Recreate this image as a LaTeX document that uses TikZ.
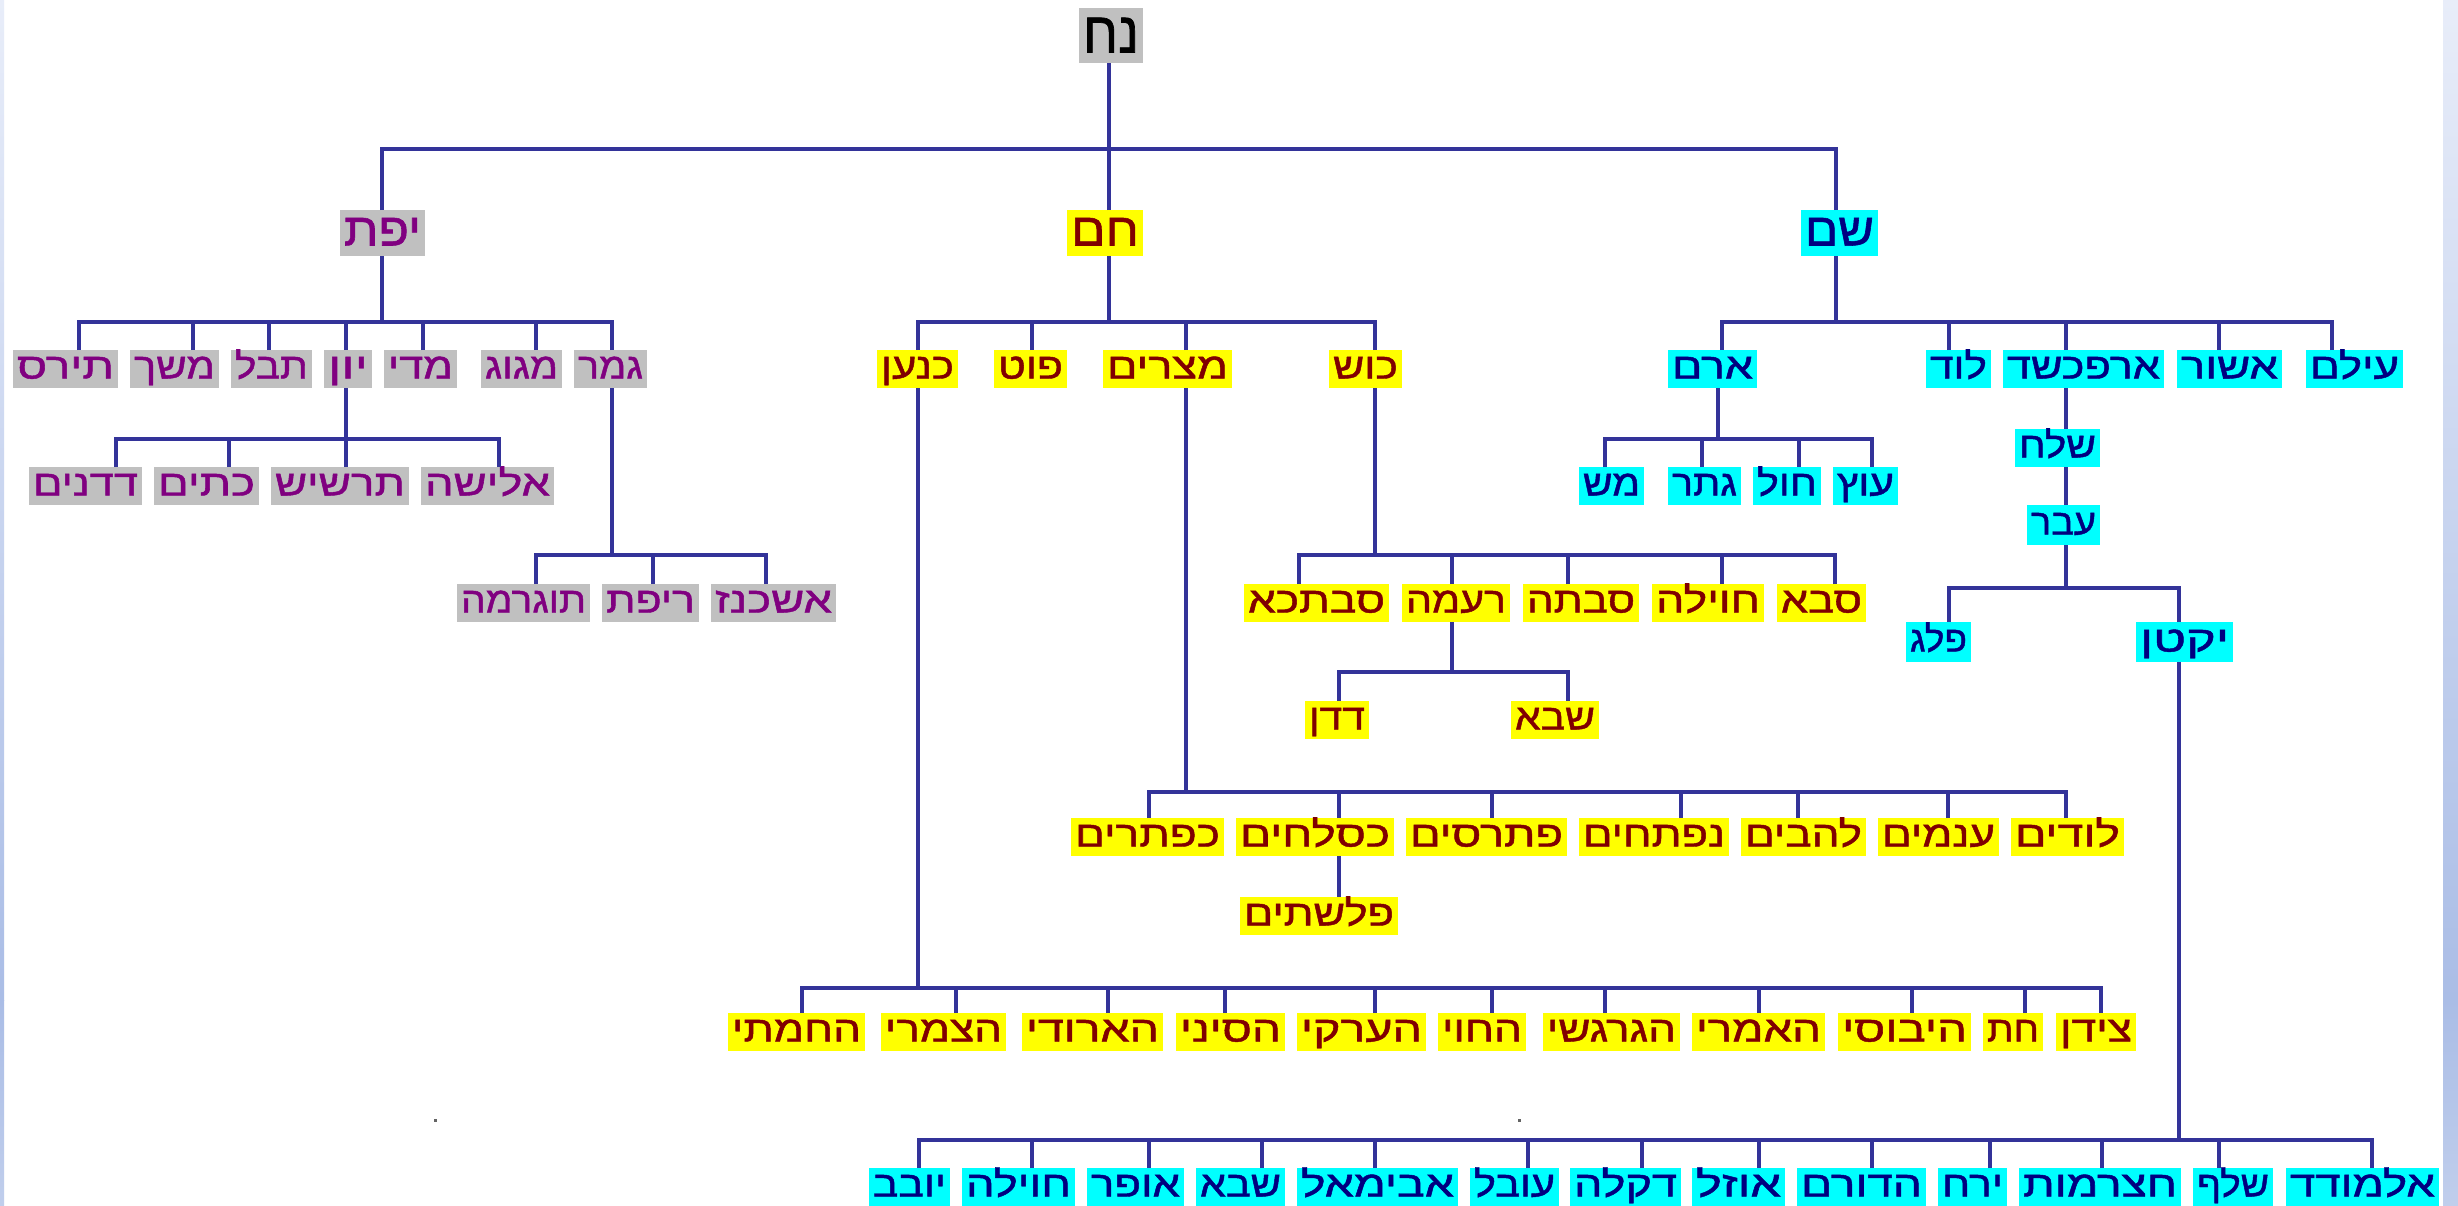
\documentclass[tikz,border=0pt]{standalone}
\usepackage{fontspec}
\usepackage{graphicx}
\newfontfamily\hebfont[Script=Hebrew,FakeBold=1.2]{Liberation Sans}
\TeXXeTstate=1
\definecolor{lnc}{RGB}{51,51,153}
\definecolor{gfill}{RGB}{192,192,192}
\definecolor{gtext}{RGB}{128,0,128}
\definecolor{yfill}{RGB}{255,255,0}
\definecolor{ytext}{RGB}{128,0,0}
\definecolor{cfill}{RGB}{0,255,255}
\definecolor{ctext}{RGB}{0,0,128}
\definecolor{stripA}{RGB}{232,237,249}
\definecolor{stripB}{RGB}{170,189,230}
\definecolor{stripC}{RGB}{192,206,236}
\definecolor{dotc}{RGB}{100,100,100}
\tikzset{
  ln/.style={draw=lnc, line width=1.8pt},
  bxbase/.style={inner sep=0pt, outer sep=0pt, anchor=center},
  gbox/.style={bxbase, fill=gfill, text=gtext},
  ybox/.style={bxbase, fill=yfill, text=ytext},
  cbox/.style={bxbase, fill=cfill, text=ctext},
  nbox/.style={bxbase, fill=gfill, text=black},
  kid/.style={font=\fontsize{18}{18}\selectfont, text height=12.5pt, text depth=3pt},
  big/.style={font=\fontsize{23}{23}\selectfont, text height=15.5pt, text depth=3pt},
  noahst/.style={font=\fontsize{29}{29}\selectfont, text height=20.5pt, text depth=3.5pt},
}
% name, x1, y1, x2, y2, style, text
\newcommand\mkbox[7]{%
  \pgfmathsetlengthmacro\bxw{(#4-#2)*0.5pt}%
  \pgfmathsetlengthmacro\bxh{(#5-#3)*0.5pt}%
  \pgfmathsetlengthmacro\bxt{(#4-#2-8)*0.5pt}%
  \node[#6, minimum width=\bxw, minimum height=\bxh] (#1) at ({(#2+#4)/2},{(#3+#5)/2})
    {\resizebox{\bxt}{\height}{\hebfont\beginR #7\endR}};%
}
\newcommand\kid[3]{\draw[ln] (#1.north -| #2,0) |- (#3);}
\newcommand\dropdown[2]{\draw[ln] (#1.south -| #2) -- (#2);}
\begin{document}
\begin{tikzpicture}[x=0.5pt,y=-0.5pt]
\useasboundingbox (0,0) rectangle (2458,1205);
\fill[white] (0,0) rectangle (2458,1205);
% side strips
\shade[top color=stripA, bottom color=stripB] (0,0) rectangle (4,1000);
\shade[top color=stripB, bottom color=stripC] (0,1000) rectangle (4,1205);
\shade[top color=stripA, bottom color=stripB] (2443,0) rectangle (2458,1000);
\shade[top color=stripB, bottom color=stripC] (2443,1000) rectangle (2458,1205);
% stray dots
\fill[dotc] (434,1119) rectangle (437,1122);
\fill[dotc] (1518,1119) rectangle (1521,1122);

% ---------- boxes ----------
\mkbox{noah}{1079}{8}{1143}{63}{nbox,noahst}{נח}
\mkbox{japheth}{340}{210}{425}{256}{gbox,big}{יפת}
\mkbox{ham}{1067}{210}{1143}{256}{ybox,big}{חם}
\mkbox{shem}{1801}{210}{1878}{256}{cbox,big}{שם}

% Japheth's sons
\mkbox{tiras}{13}{350}{118}{388}{gbox,kid}{תירס}
\mkbox{meshech}{130}{350}{219}{388}{gbox,kid}{משך}
\mkbox{tuval}{231}{350}{312}{388}{gbox,kid}{תבל}
\mkbox{yavan}{324}{350}{372}{388}{gbox,kid}{יון}
\mkbox{madai}{384}{350}{457}{388}{gbox,kid}{מדי}
\mkbox{magog}{481}{350}{562}{388}{gbox,kid}{מגוג}
\mkbox{gomer}{574}{350}{647}{388}{gbox,kid}{גמר}
% Yavan's sons
\mkbox{dodanim}{29}{467}{142}{505}{gbox,kid}{דדנים}
\mkbox{kittim}{154}{467}{259}{505}{gbox,kid}{כתים}
\mkbox{tarshish}{271}{467}{409}{505}{gbox,kid}{תרשיש}
\mkbox{elisha}{421}{467}{554}{505}{gbox,kid}{אלישה}
% Gomer's sons
\mkbox{togarma}{457}{584}{590}{622}{gbox,kid}{תוגרמה}
\mkbox{rifat}{602}{584}{699}{622}{gbox,kid}{ריפת}
\mkbox{ashkenaz}{711}{584}{836}{622}{gbox,kid}{אשכנז}

% Ham's sons
\mkbox{canaan}{877}{350}{958}{388}{ybox,kid}{כנען}
\mkbox{put}{994}{350}{1067}{388}{ybox,kid}{פוט}
\mkbox{mizraim}{1103}{350}{1232}{388}{ybox,kid}{מצרים}
\mkbox{cush}{1329}{350}{1402}{388}{ybox,kid}{כוש}
% Cush's sons
\mkbox{savtecha}{1244}{584}{1389}{622}{ybox,kid}{סבתכא}
\mkbox{raama}{1402}{584}{1510}{622}{ybox,kid}{רעמה}
\mkbox{savta}{1523}{584}{1639}{622}{ybox,kid}{סבתה}
\mkbox{havila}{1652}{584}{1764}{622}{ybox,kid}{חוילה}
\mkbox{seba}{1777}{584}{1866}{622}{ybox,kid}{סבא}
% Raama's sons
\mkbox{dedan}{1305}{701}{1369}{739}{ybox,kid}{דדן}
\mkbox{sheba}{1511}{701}{1599}{739}{ybox,kid}{שבא}
% Mizraim's sons
\mkbox{kaftorim}{1071}{818}{1224}{856}{ybox,kid}{כפתרים}
\mkbox{kasluhim}{1236}{818}{1394}{856}{ybox,kid}{כסלחים}
\mkbox{patrusim}{1406}{818}{1567}{856}{ybox,kid}{פתרסים}
\mkbox{naftuhim}{1579}{818}{1729}{856}{ybox,kid}{נפתחים}
\mkbox{lehavim}{1741}{818}{1866}{856}{ybox,kid}{להבים}
\mkbox{anamim}{1878}{818}{1999}{856}{ybox,kid}{ענמים}
\mkbox{ludim}{2011}{818}{2124}{856}{ybox,kid}{לודים}
\mkbox{plishtim}{1240}{897}{1398}{935}{ybox,kid}{פלשתים}
% Canaan's sons
\mkbox{hamati}{728}{1013}{865}{1051}{ybox,kid}{החמתי}
\mkbox{tsemari}{881}{1013}{1006}{1051}{ybox,kid}{הצמרי}
\mkbox{arvadi}{1022}{1013}{1163}{1051}{ybox,kid}{הארודי}
\mkbox{sini}{1176}{1013}{1285}{1051}{ybox,kid}{הסיני}
\mkbox{arki}{1297}{1013}{1426}{1051}{ybox,kid}{הערקי}
\mkbox{hivi}{1438}{1013}{1526}{1051}{ybox,kid}{החוי}
\mkbox{girgashi}{1543}{1013}{1680}{1051}{ybox,kid}{הגרגשי}
\mkbox{emori}{1692}{1013}{1825}{1051}{ybox,kid}{האמרי}
\mkbox{yevusi}{1838}{1013}{1971}{1051}{ybox,kid}{היבוסי}
\mkbox{het}{1983}{1013}{2043}{1051}{ybox,kid}{חת}
\mkbox{tsidon}{2056}{1013}{2136}{1051}{ybox,kid}{צידן}

% Shem's sons
\mkbox{aram}{1668}{350}{1757}{388}{cbox,kid}{ארם}
\mkbox{lud}{1926}{350}{1991}{388}{cbox,kid}{לוד}
\mkbox{arpachshad}{2003}{350}{2164}{388}{cbox,kid}{ארפכשד}
\mkbox{ashur}{2177}{350}{2282}{388}{cbox,kid}{אשור}
\mkbox{elam}{2306}{350}{2403}{388}{cbox,kid}{עילם}
% Aram's sons
\mkbox{mash}{1579}{467}{1644}{505}{cbox,kid}{מש}
\mkbox{geter}{1668}{467}{1741}{505}{cbox,kid}{גתר}
\mkbox{hul}{1753}{467}{1821}{505}{cbox,kid}{חול}
\mkbox{uts}{1833}{467}{1898}{505}{cbox,kid}{עוץ}
% line of Arpachshad
\mkbox{shelah}{2015}{429}{2100}{467}{cbox,kid}{שלח}
\mkbox{ever}{2027}{505}{2100}{545}{cbox,kid}{עבר}
\mkbox{peleg}{1906}{622}{1971}{662}{cbox,kid}{פלג}
\mkbox{yoktan}{2136}{622}{2233}{662}{cbox,kid}{יקטן}
% Yoktan's sons
\mkbox{yovav}{869}{1168}{950}{1206}{cbox,kid}{יובב}
\mkbox{havila2}{962}{1168}{1075}{1206}{cbox,kid}{חוילה}
\mkbox{ofir}{1087}{1168}{1184}{1206}{cbox,kid}{אופר}
\mkbox{sheba2}{1196}{1168}{1285}{1206}{cbox,kid}{שבא}
\mkbox{avimael}{1297}{1168}{1458}{1206}{cbox,kid}{אבימאל}
\mkbox{oval}{1470}{1168}{1559}{1206}{cbox,kid}{עובל}
\mkbox{dikla}{1570}{1168}{1681}{1206}{cbox,kid}{דקלה}
\mkbox{uzal}{1692}{1168}{1785}{1206}{cbox,kid}{אוזל}
\mkbox{hadoram}{1797}{1168}{1926}{1206}{cbox,kid}{הדורם}
\mkbox{yerah}{1938}{1168}{2007}{1206}{cbox,kid}{ירח}
\mkbox{hatsarmavet}{2019}{1168}{2181}{1206}{cbox,kid}{חצרמות}
\mkbox{shelef}{2193}{1168}{2273}{1206}{cbox,kid}{שלף}
\mkbox{almodad}{2286}{1168}{2439}{1206}{cbox,kid}{אלמודד}

% ---------- connectors ----------
\coordinate (nb) at (1109,149);
\dropdown{noah}{nb}
\kid{japheth}{382}{nb}
\kid{ham}{1109}{nb}
\kid{shem}{1836}{nb}

\coordinate (jb) at (382,322);
\dropdown{japheth}{jb}
\kid{tiras}{79}{jb}
\kid{meshech}{193}{jb}
\kid{tuval}{269}{jb}
\kid{yavan}{346}{jb}
\kid{madai}{423}{jb}
\kid{magog}{536}{jb}
\kid{gomer}{612}{jb}

\coordinate (yb) at (346,439);
\dropdown{yavan}{yb}
\kid{dodanim}{116}{yb}
\kid{kittim}{229}{yb}
\kid{tarshish}{346}{yb}
\kid{elisha}{499}{yb}

\coordinate (gb) at (612,555);
\dropdown{gomer}{gb}
\kid{togarma}{536}{gb}
\kid{rifat}{653}{gb}
\kid{ashkenaz}{766}{gb}

\coordinate (hb) at (1109,322);
\dropdown{ham}{hb}
\kid{canaan}{918}{hb}
\kid{put}{1032}{hb}
\kid{mizraim}{1186}{hb}
\kid{cush}{1375}{hb}

\coordinate (cb) at (1375,555);
\dropdown{cush}{cb}
\kid{savtecha}{1299}{cb}
\kid{raama}{1452}{cb}
\kid{savta}{1568}{cb}
\kid{havila}{1722}{cb}
\kid{seba}{1835}{cb}

\coordinate (rb) at (1452,672);
\dropdown{raama}{rb}
\kid{dedan}{1339}{rb}
\kid{sheba}{1568}{rb}

\coordinate (mb) at (1186,792);
\dropdown{mizraim}{mb}
\kid{kaftorim}{1149}{mb}
\kid{kasluhim}{1339}{mb}
\kid{patrusim}{1492}{mb}
\kid{naftuhim}{1681}{mb}
\kid{lehavim}{1798}{mb}
\kid{anamim}{1948}{mb}
\kid{ludim}{2066}{mb}
\draw[ln] (kasluhim.south -| 1339,0) -- (plishtim.north -| 1339,0);

\coordinate (kb) at (918,988);
\dropdown{canaan}{kb}
\kid{hamati}{802}{kb}
\kid{tsemari}{956}{kb}
\kid{arvadi}{1108}{kb}
\kid{sini}{1225}{kb}
\kid{arki}{1375}{kb}
\kid{hivi}{1492}{kb}
\kid{girgashi}{1605}{kb}
\kid{emori}{1759}{kb}
\kid{yevusi}{1912}{kb}
\kid{het}{2025}{kb}
\kid{tsidon}{2101}{kb}

\coordinate (sb) at (1836,322);
\dropdown{shem}{sb}
\kid{aram}{1722}{sb}
\kid{lud}{1949}{sb}
\kid{arpachshad}{2066}{sb}
\kid{ashur}{2219}{sb}
\kid{elam}{2332}{sb}

\coordinate (ab) at (1718,439);
\dropdown{aram}{ab}
\kid{mash}{1605}{ab}
\kid{geter}{1702}{ab}
\kid{hul}{1799}{ab}
\kid{uts}{1872}{ab}

\draw[ln] (arpachshad.south -| 2066,0) -- (shelah.north -| 2066,0);
\draw[ln] (shelah.south -| 2066,0) -- (ever.north -| 2066,0);

\coordinate (eb) at (2066,588);
\dropdown{ever}{eb}
\kid{peleg}{1949}{eb}
\kid{yoktan}{2179}{eb}

\coordinate (tb) at (2179,1140);
\dropdown{yoktan}{tb}
\kid{yovav}{919}{tb}
\kid{havila2}{1032}{tb}
\kid{ofir}{1149}{tb}
\kid{sheba2}{1262}{tb}
\kid{avimael}{1375}{tb}
\kid{oval}{1528}{tb}
\kid{dikla}{1642}{tb}
\kid{uzal}{1759}{tb}
\kid{hadoram}{1872}{tb}
\kid{yerah}{1990}{tb}
\kid{hatsarmavet}{2102}{tb}
\kid{shelef}{2219}{tb}
\kid{almodad}{2372}{tb}
\end{tikzpicture}
\end{document}
